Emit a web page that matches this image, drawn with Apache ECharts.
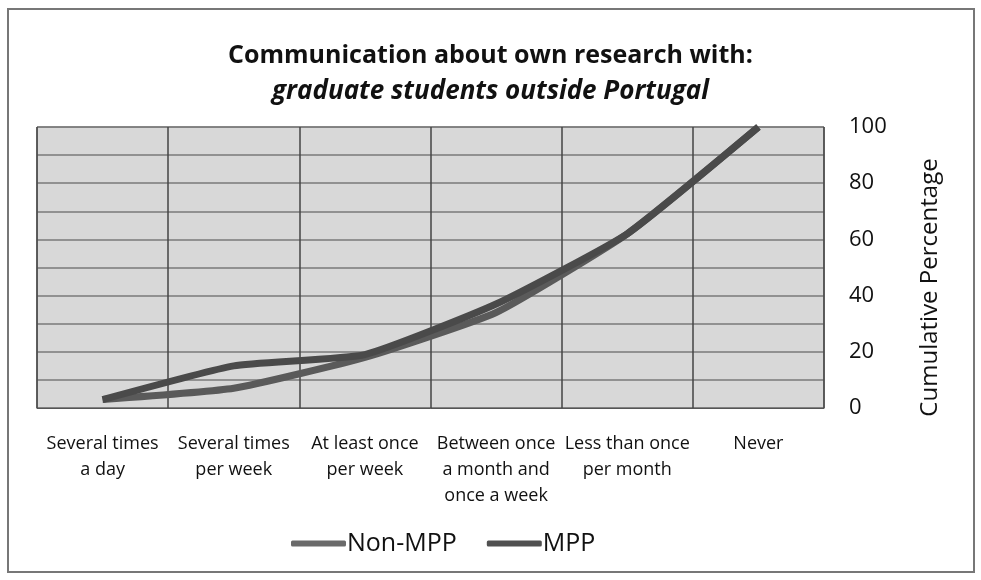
<!DOCTYPE html>
<html>
<head>
<meta charset="utf-8">
<script src="https://cdn.jsdelivr.net/npm/echarts@6/dist/echarts.min.js"></script>
<style>
  html, body { margin: 0; padding: 0; background: #fff; }
  #chart { width: 981px; height: 580px; }
</style>
</head>
<body>
<div id="chart"></div>
<script>
// categories along the x axis
var categories = [
  "Several times\na day",
  "Several times\nper week",
  "At least once\nper week",
  "Between once\na month and\nonce a week",
  "Less than once\nper month",
  "Never"
];
// cumulative percentages
var nonMpp = [3, 7, 18, 34, 62, 100];
var mpp = [3, 15, 19, 37, 62, 100];
var yTicks = [0, 20, 40, 60, 80, 100];

var font = "'Open Sans', 'Noto Sans', sans-serif";
var chart = echarts.init(document.getElementById("chart"));

var option = {
  animation: false,
  backgroundColor: "#fff",
  textStyle: { fontFamily: font },
  graphic: [
    {
      type: "rect",
      shape: { x: 8, y: 9, width: 966, height: 563 },
      style: { fill: "none", stroke: "#777", lineWidth: 2 },
      silent: true
    }
  ],
  title: [
    {
      text: "Communication about own research with:",
      left: "center",
      top: 38,
      textStyle: { fontFamily: font, fontSize: 25, fontWeight: "bold", color: "#111" }
    },
    {
      text: "graduate students outside Portugal",
      left: "center",
      top: 74,
      textStyle: { fontFamily: font, fontSize: 26, fontWeight: "bold", fontStyle: "italic", color: "#111" }
    }
  ],
  legend: {
    left: 286,
    top: 526,
    itemWidth: 55,
    itemHeight: 6,
    itemGap: 30,
    icon: "roundRect",
    textStyle: { fontFamily: font, fontSize: 25, color: "#111", padding: [0, 0, 0, -4] },
    data: ["Non-MPP", "MPP"]
  },
  grid: {
    left: 37,
    right: 157,
    top: 127,
    bottom: 172,
    show: true,
    backgroundColor: "#d8d8d8",
    borderColor: "#555",
    borderWidth: 1
  },
  xAxis: {
    type: "category",
    data: categories,
    boundaryGap: true,
    axisLine: { show: true, lineStyle: { color: "#555", width: 1 } },
    axisTick: { show: false },
    splitLine: { show: true, lineStyle: { color: "#444", width: 1.5 } },
    axisLabel: {
      interval: 0,
      margin: 23,
      fontSize: 18,
      lineHeight: 26,
      color: "#111",
      fontFamily: font
    }
  },
  yAxis: {
    type: "value",
    position: "right",
    min: 0,
    max: 100,
    interval: 10,
    name: "Cumulative Percentage",
    nameLocation: "middle",
    nameGap: 94,
    nameRotate: 90,
    nameTextStyle: { fontSize: 24, color: "#111", fontFamily: font, padding: [0, 40, 0, 0] },
    axisLine: { show: false },
    axisTick: { show: false },
    splitLine: { show: true, lineStyle: { color: "#7a7a7a", width: 1.5 } },
    axisLabel: {
      margin: 25,
      fontSize: 22,
      color: "#111",
      fontFamily: font,
      formatter: function (v) {
        return yTicks.indexOf(v) >= 0 ? String(v) : "";
      }
    }
  },
  series: [
    {
      name: "Non-MPP",
      type: "line",
      data: nonMpp,
      smooth: 0.15,
      symbol: "none",
      lineStyle: { color: "#5a5a5a", width: 7 },
      itemStyle: { color: "#6a6a6a" }
    },
    {
      name: "MPP",
      type: "line",
      data: mpp,
      smooth: 0.15,
      symbol: "none",
      lineStyle: { color: "#4a4a4a", width: 7 },
      itemStyle: { color: "#505050" }
    }
  ]
};

chart.setOption(option);
</script>
</body>
</html>
